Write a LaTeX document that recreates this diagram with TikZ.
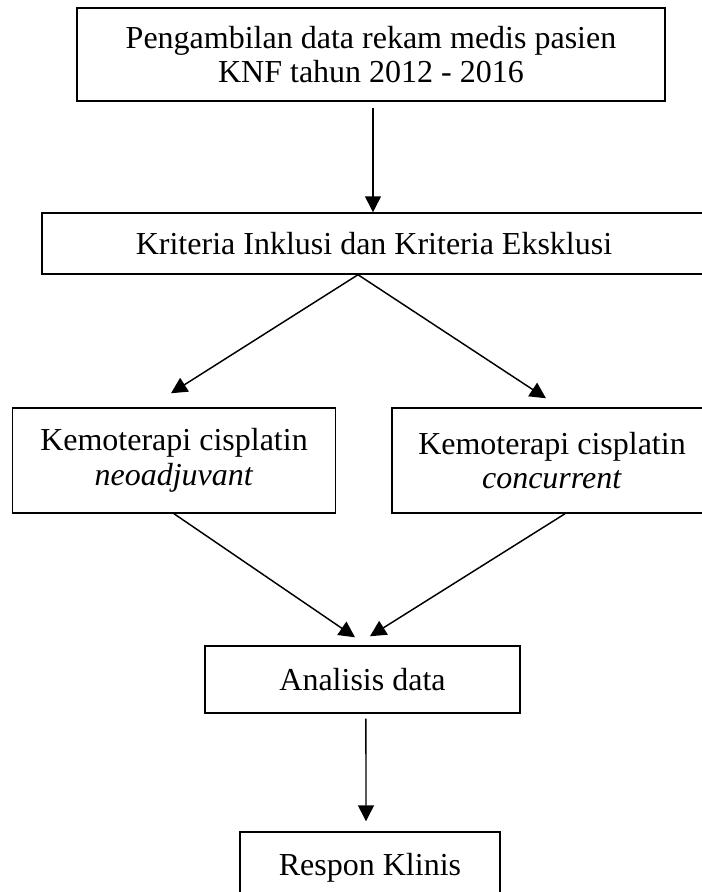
\documentclass[tikz,border=0pt]{standalone}
\usepackage{fontspec}
\setmainfont{Liberation Serif}
\usetikzlibrary{arrows.meta}

\tikzset{
	flowbox/.style={draw, line width=1.1pt, inner sep=0pt, align=center, font=\fontsize{24}{26}\selectfont},
	flowarrow/.style={-{Triangle[length=12pt,width=12pt]}, line width=1.1pt}
}

\begin{document}
\begin{tikzpicture}[x=0.75pt,y=-0.75pt]
	% page size of the reference
	\useasboundingbox (0,0) rectangle (701,892);
	% the boxes
	\node[flowbox, minimum width=441pt, minimum height=69.75pt] (ambil) at (371,54.5) {Pengambilan data rekam medis pasien\\KNF tahun 2012 - 2016};
	\node[flowbox, minimum width=498pt, minimum height=45.75pt] (kriteria) at (374,243.5) {Kriteria Inklusi dan Kriteria Eksklusi};
	\node[flowbox, minimum width=241.9pt, minimum height=78.75pt] (neo) at (174,460.5) {Kemoterapi cisplatin\\\textit{neoadjuvant}};
	\node[flowbox, minimum width=240pt, minimum height=78.75pt] (conc) at (552,460.5) {Kemoterapi cisplatin\\\textit{concurrent}};
	\node[flowbox, minimum width=236.25pt, minimum height=50.25pt] (analisis) at (362.5,679.5) {Analisis data};
	\node[flowbox, minimum width=195pt, minimum height=54pt] (respon) at (370,868) {Respon Klinis};
	% the arrows
	\draw[flowarrow] ([xshift=1.5pt,yshift=-4.5pt]ambil.south) -- ([xshift=-0.75pt]kriteria.north);
	\draw[flowarrow] ([xshift=-12pt]kriteria.south) -- ([xshift=-2.25pt,yshift=10.5pt]neo.north);
	\draw[flowarrow] ([xshift=-12pt]kriteria.south) -- ([xshift=-4.5pt,yshift=6.75pt]conc.north);
	\draw[flowarrow] (neo.south) -- ([xshift=-5.6pt,yshift=6pt]analisis.north);
	\draw[flowarrow] ([xshift=9.75pt]conc.south) -- ([xshift=5.6pt,yshift=6.75pt]analisis.north);
	\draw[flowarrow] ([xshift=2.6pt,yshift=-3.75pt]analisis.south) -- ([xshift=-3pt,yshift=7.5pt]respon.north);
\end{tikzpicture}
\end{document}
